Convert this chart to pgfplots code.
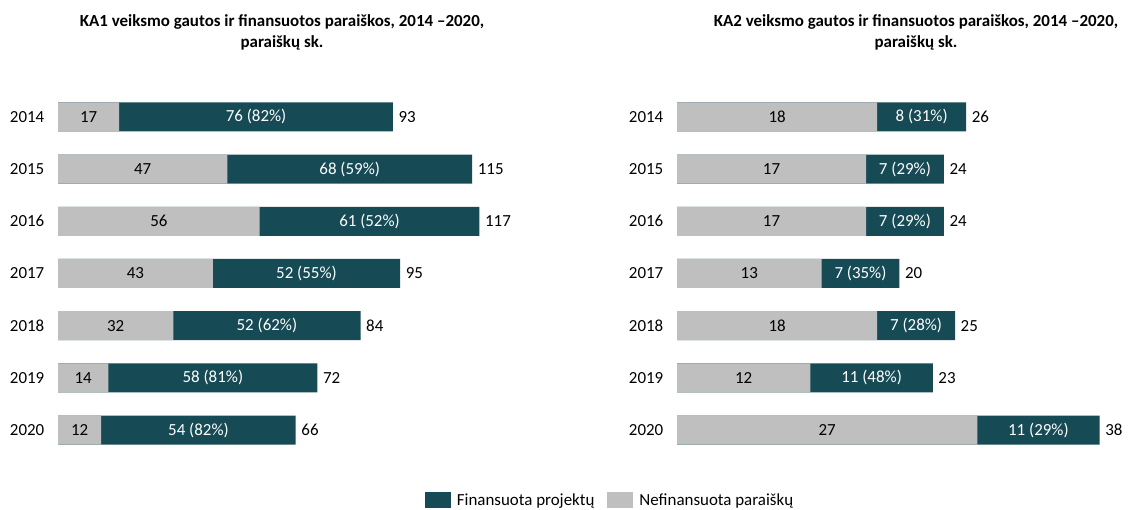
\documentclass[border=0pt]{standalone}
\usepackage{fontspec}
\setmainfont{Carlito}
\usepackage{pgfplots}
\pgfplotsset{compat=1.18}
\usepackage{pgfplotstable}
\definecolor{teal1}{HTML}{164A55}
\definecolor{gray1}{HTML}{BFBFBF}

\pgfplotstableread{
year nf f pct total
2014 17 76 82 93
2015 47 68 59 115
2016 56 61 52 117
2017 43 52 55 95
2018 32 52 62 84
2019 14 58 81 72
2020 12 54 82 66
}\kaone

\pgfplotstableread{
year nf f pct total
2014 18 8 31 26
2015 17 7 29 24
2016 17 7 29 24
2017 13 7 35 20
2018 18 7 28 25
2019 12 11 48 23
2020 27 11 29 38
}\katwo

\newcommand{\lblfont}{\fontsize{17}{20}\selectfont}

\pgfplotsset{
  sq legend/.style={legend image code/.code={\fill[##1] (0bp,-8bp) rectangle (26bp,8bp);}},
  mybars/.style={
    scale only axis, clip=false,
    height=365.2bp,
    ymin=2013.5, ymax=2020.5, y dir=reverse,
    hide x axis,
    axis y line*=left, y axis line style={draw=none},
    ytick={2014,2015,2016,2017,2018,2019,2020},
    yticklabels={2014,2015,2016,2017,2018,2019,2020},
    ytick style={draw=none}, major tick length=0pt,
    yticklabel style={font=\lblfont, inner sep=0pt, anchor=east, xshift=-13.5bp},
  },
  tealbar/.style={xbar, bar width=29bp, bar shift=0pt, fill=teal1, draw=none, sq legend},
  graybar/.style={xbar, bar width=29bp, bar shift=0pt, fill=gray1, draw=none, sq legend},
  midlbl/.style={draw=none, forget plot, nodes near coords, point meta=explicit symbolic,
    every node near coord/.append style={anchor=center, font=\lblfont, inner sep=0pt, text=#1}},
  pctlbl/.style={draw=none, forget plot, nodes near coords, point meta=explicit symbolic,
    visualization depends on={\thisrow{pct} \as \pct},
    nodes near coords={\pgfplotspointmeta\ (\pgfmathprintnumber[fixed,precision=0,assume math mode=true]{\pct}\%)},
    every node near coord/.append style={anchor=center, font=\lblfont, inner sep=0pt, text=white}},
  totlbl/.style={draw=none, forget plot, nodes near coords, point meta=explicit symbolic,
    every node near coord/.append style={anchor=west, font=\lblfont, inner sep=0pt, xshift=5.5bp, text=black}},
}

\begin{document}
\begin{tikzpicture}[x=1bp,y=1bp]
\useasboundingbox (0,0) rectangle (1128,510);

\begin{axis}[mybars, at={(58bp,53.9bp)}, anchor=south west,
  width=432.2bp, xmin=0, xmax=120,
  legend columns=2,
  legend style={at={(1.2772,-0.1202)}, anchor=center, draw=none, font=\lblfont,
    /tikz/every odd column/.append style={column sep=4bp},
    /tikz/every even column/.append style={column sep=11bp},
    legend cell align=left}]
  \addplot[tealbar] table[x=total, y=year] {\kaone};
  \addlegendentry{Finansuota projektų}
  \addplot[graybar] table[x=nf, y=year] {\kaone};
  \addlegendentry{Nefinansuota paraiškų}
  \addplot[midlbl=black] table[x expr=\thisrow{nf}/2, y=year, meta=nf] {\kaone};
  \addplot[pctlbl] table[x expr=\thisrow{nf}+\thisrow{f}/2, y=year, meta=f] {\kaone};
  \addplot[totlbl] table[x=total, y=year, meta=total] {\kaone};
\end{axis}

\begin{axis}[mybars, at={(677bp,53.9bp)}, anchor=south west,
  width=444.8bp, xmin=0, xmax=40]
  \addplot[tealbar] table[x=total, y=year] {\katwo};
  \addplot[graybar] table[x=nf, y=year] {\katwo};
  \addplot[midlbl=black] table[x expr=\thisrow{nf}/2, y=year, meta=nf] {\katwo};
  \addplot[pctlbl] table[x expr=\thisrow{nf}+\thisrow{f}/2, y=year, meta=f] {\katwo};
  \addplot[totlbl] table[x=total, y=year, meta=total] {\katwo};
\end{axis}

\node[font=\bfseries\fontsize{17}{20}\selectfont] at (282,488) {KA1 veiksmo gautos ir finansuotos paraiškos, 2014 –2020,};
\node[font=\bfseries\fontsize{17}{20}\selectfont] at (282,467) {paraiškų sk.};
\node[font=\bfseries\fontsize{17}{20}\selectfont] at (916,488) {KA2 veiksmo gautos ir finansuotos paraiškos, 2014 –2020,};
\node[font=\bfseries\fontsize{17}{20}\selectfont] at (916,467) {paraiškų sk.};
\end{tikzpicture}
\end{document}
